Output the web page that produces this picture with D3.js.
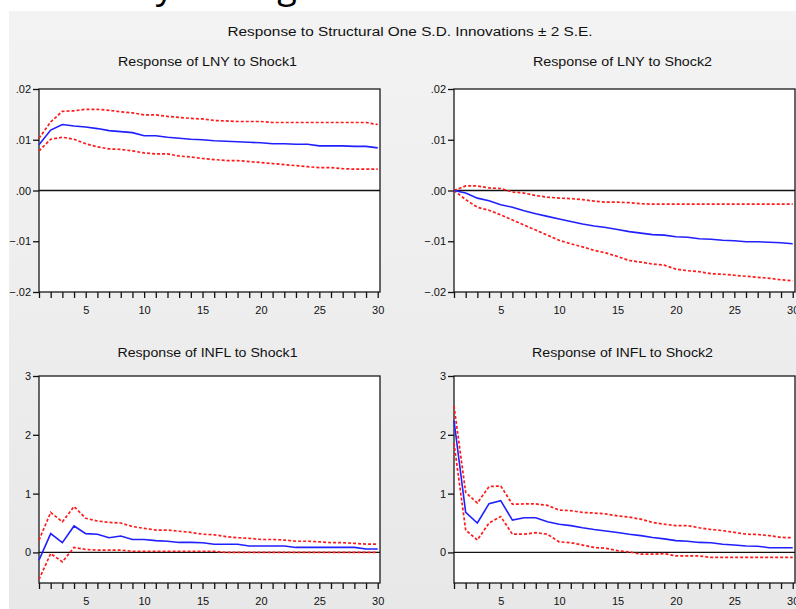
<!DOCTYPE html>
<html>
<head>
<meta charset="utf-8">
<script src="https://cdn.jsdelivr.net/npm/d3@7"></script>
<style>
  body { margin: 0; background: #fff; }
  svg { display: block; }
  text { font-family: "Liberation Sans", Arial, sans-serif; fill: #111; }
</style>
</head>
<body>
<div class="irf"></div>
<script>
// periods 1..30
const periods = d3.range(1, 31);

// Response of LNY to Shock1
const lnyShock1 = [0.0090, 0.0119, 0.0130, 0.0127, 0.0125, 0.0122, 0.0118, 0.0116, 0.0114, 0.0108,
  0.0108, 0.0105, 0.0103, 0.0101, 0.0100, 0.0098, 0.0097, 0.0096, 0.0095, 0.0094,
  0.0092, 0.0092, 0.0091, 0.0091, 0.0088, 0.0088, 0.0088, 0.0087, 0.0087, 0.0084];
const lnyShock1Up = [0.0103, 0.0135, 0.0156, 0.0157, 0.0160, 0.0160, 0.0158, 0.0155, 0.0153, 0.0149,
  0.0149, 0.0146, 0.0144, 0.0142, 0.0141, 0.0138, 0.0137, 0.0136, 0.0136, 0.0136,
  0.0134, 0.0134, 0.0134, 0.0134, 0.0134, 0.0134, 0.0134, 0.0134, 0.0134, 0.0130];
const lnyShock1Lo = [0.0078, 0.0101, 0.0105, 0.0101, 0.0092, 0.0086, 0.0082, 0.0081, 0.0078, 0.0074,
  0.0072, 0.0072, 0.0068, 0.0066, 0.0063, 0.0061, 0.0059, 0.0059, 0.0057, 0.0055,
  0.0053, 0.0051, 0.0049, 0.0047, 0.0045, 0.0045, 0.0043, 0.0042, 0.0042, 0.0042];

// Response of LNY to Shock2
const lnyShock2 = [0.0000, -0.0005, -0.0015, -0.0020, -0.0028, -0.0033, -0.0040, -0.0046, -0.0051, -0.0056,
  -0.0061, -0.0066, -0.0070, -0.0073, -0.0077, -0.0081, -0.0084, -0.0087, -0.0088, -0.0091,
  -0.0092, -0.0095, -0.0096, -0.0098, -0.0099, -0.0101, -0.0101, -0.0102, -0.0103, -0.0105];
const lnyShock2Up = [0.0000, 0.0009, 0.0009, 0.0005, 0.0004, -0.0003, -0.0005, -0.0010, -0.0013, -0.0015,
  -0.0016, -0.0018, -0.0021, -0.0023, -0.0023, -0.0024, -0.0026, -0.0027, -0.0027, -0.0027,
  -0.0027, -0.0027, -0.0027, -0.0027, -0.0027, -0.0027, -0.0027, -0.0027, -0.0027, -0.0027];
const lnyShock2Lo = [0.0000, -0.0018, -0.0033, -0.0039, -0.0048, -0.0058, -0.0068, -0.0078, -0.0088, -0.0098,
  -0.0105, -0.0111, -0.0118, -0.0123, -0.0130, -0.0138, -0.0141, -0.0145, -0.0147, -0.0155,
  -0.0158, -0.0160, -0.0164, -0.0165, -0.0167, -0.0169, -0.0171, -0.0173, -0.0176, -0.0178];

// Response of INFL to Shock1
const inflShock1 = [-0.13, 0.32, 0.165, 0.45, 0.32, 0.31, 0.25, 0.28, 0.22, 0.22,
  0.20, 0.19, 0.17, 0.17, 0.165, 0.14, 0.14, 0.14, 0.11, 0.11,
  0.11, 0.11, 0.085, 0.085, 0.085, 0.085, 0.085, 0.085, 0.057, 0.057];
const inflShock1Up = [0.21, 0.68, 0.52, 0.78, 0.58, 0.535, 0.51, 0.50, 0.44, 0.41,
  0.38, 0.38, 0.36, 0.34, 0.31, 0.30, 0.27, 0.25, 0.24, 0.22,
  0.22, 0.21, 0.19, 0.19, 0.18, 0.165, 0.165, 0.155, 0.14, 0.14];
const inflShock1Lo = [-0.46, -0.02, -0.16, 0.085, 0.05, 0.04, 0.04, 0.04, 0.02, 0.02,
  0.02, 0.02, 0.02, 0.02, 0.02, 0.02, 0.0, 0.0, 0.0, 0.0,
  0.0, 0.0, 0.0, 0.0, 0.0, 0.0, 0.0, 0.0, 0.0, 0.0];

// Response of INFL to Shock2
const inflShock2 = [2.24, 0.68, 0.50, 0.83, 0.88, 0.55, 0.59, 0.59, 0.52, 0.48,
  0.455, 0.42, 0.39, 0.365, 0.34, 0.31, 0.285, 0.255, 0.23, 0.20,
  0.19, 0.17, 0.165, 0.14, 0.125, 0.11, 0.105, 0.08, 0.08, 0.08];
const inflShock2Up = [2.49, 1.02, 0.84, 1.12, 1.13, 0.82, 0.825, 0.825, 0.80, 0.72,
  0.71, 0.68, 0.67, 0.655, 0.62, 0.60, 0.565, 0.51, 0.48, 0.455,
  0.455, 0.42, 0.39, 0.37, 0.34, 0.31, 0.305, 0.285, 0.255, 0.25];
const inflShock2Lo = [1.86, 0.38, 0.21, 0.50, 0.61, 0.31, 0.31, 0.335, 0.31, 0.18,
  0.165, 0.125, 0.085, 0.07, 0.03, 0.01, -0.03, -0.03, -0.02, -0.06,
  -0.06, -0.06, -0.085, -0.085, -0.085, -0.085, -0.085, -0.085, -0.085, -0.085];

const xTickLabels = [5, 10, 15, 20, 25, 30];
const lnyTicks = [-0.02, -0.01, 0, 0.01, 0.02];
const inflTicks = [0, 1, 2, 3];

const mainTitle = "Response to Structural One S.D. Innovations \u00b1 2 S.E.";

const panels = [
  { title: "Response of LNY to Shock1", resp: lnyShock1, up: lnyShock1Up, lo: lnyShock1Lo,
    yDomain: [-0.02, 0.02], yTicks: lnyTicks, fmt: (v) => d3.format(".2f")(v).replace("0.", "."),
    left: 39, right: 380, top: 89, bottom: 292, titleY: 62, titleW: 179 },
  { title: "Response of LNY to Shock2", resp: lnyShock2, up: lnyShock2Up, lo: lnyShock2Lo,
    yDomain: [-0.02, 0.02], yTicks: lnyTicks, fmt: (v) => d3.format(".2f")(v).replace("0.", "."),
    left: 454, right: 795, top: 89, bottom: 292, titleY: 62, titleW: 179 },
  { title: "Response of INFL to Shock1", resp: inflShock1, up: inflShock1Up, lo: inflShock1Lo,
    yDomain: [-0.52, 3], yTicks: inflTicks, fmt: d3.format("d"),
    left: 39, right: 380, top: 376, bottom: 583, titleY: 353, titleW: 180 },
  { title: "Response of INFL to Shock2", resp: inflShock2, up: inflShock2Up, lo: inflShock2Lo,
    yDomain: [-0.52, 3], yTicks: inflTicks, fmt: d3.format("d"),
    left: 454, right: 795, top: 376, bottom: 583, titleY: 353, titleW: 181 },
];

const width = 796, height = 609;

const svg = d3.select(".irf")
  .append("svg")
  .attr("width", width)
  .attr("height", height);

const defs = svg.append("defs");
const grad = defs.append("linearGradient")
  .attr("id", "bg")
  .attr("x1", 0).attr("y1", 0).attr("x2", 0).attr("y2", 1);
grad.append("stop").attr("offset", "0%").attr("stop-color", "#f3f3f3");
grad.append("stop").attr("offset", "100%").attr("stop-color", "#e8e8e8");

// text of the page above the graph, cut off by the crop (only descenders show)
svg.append("text")
  .attr("x", 41)
  .attr("y", -2)
  .style("font-family", "'Open Sans', sans-serif")
  .style("font-size", "36px")
  .style("fill", "#000")
  .text("Stability testing");

svg.append("rect")
  .attr("x", 9).attr("y", 11)
  .attr("width", width - 9).attr("height", height - 11)
  .style("fill", "url(#bg)");

svg.append("text")
  .attr("x", 410)
  .attr("y", 36)
  .attr("text-anchor", "middle")
  .attr("textLength", 365)
  .attr("lengthAdjust", "spacingAndGlyphs")
  .style("font-size", "12.5px")
  .text(mainTitle);

panels.forEach((p) => {
  const x = d3.scaleLinear().domain([1, 30]).range([p.left, p.left + 11.68 * 29]);
  const y = d3.scaleLinear().domain(p.yDomain).range([p.bottom, p.top]);
  const g = svg.append("g");

  g.append("text")
    .attr("x", (p.left + p.right) / 2 - 2)
    .attr("y", p.titleY + 4)
    .attr("text-anchor", "middle")
    .attr("textLength", p.titleW)
    .attr("lengthAdjust", "spacingAndGlyphs")
    .style("font-size", "12px")
    .text(p.title);

  g.append("rect")
    .attr("x", p.left).attr("y", p.top)
    .attr("width", p.right - p.left).attr("height", p.bottom - p.top)
    .style("fill", "#fff")
    .style("stroke", "#1a1a1a")
    .style("stroke-width", 1.3);

  // y axis
  const yAxis = g.append("g")
    .attr("transform", `translate(${p.left},0)`)
    .call(d3.axisLeft(y).tickValues(p.yTicks).tickFormat(p.fmt).tickSize(6).tickPadding(2));
  yAxis.select(".domain").remove();
  yAxis.selectAll("line").style("stroke", "#111").style("stroke-width", 1.3);
  yAxis.selectAll("text")
    .style("font-family", "'Liberation Sans', Arial, sans-serif")
    .style("font-size", "11px")
    .style("fill", "#111");

  // x axis: a tick at every period, labels every 5
  const xAxis = g.append("g")
    .attr("transform", `translate(0,${p.bottom})`)
    .call(d3.axisBottom(x).tickValues(periods)
      .tickFormat((d) => (xTickLabels.includes(d) ? d : ""))
      .tickSize(6).tickPadding(8));
  xAxis.select(".domain").remove();
  xAxis.selectAll("line").style("stroke", "#111").style("stroke-width", 1.3);
  xAxis.selectAll("text")
    .style("font-family", "'Liberation Sans', Arial, sans-serif")
    .style("font-size", "11px")
    .style("fill", "#111");

  // zero line
  g.append("line")
    .attr("x1", p.left).attr("x2", p.right)
    .attr("y1", y(0)).attr("y2", y(0))
    .style("stroke", "#111")
    .style("stroke-width", 1.4);

  const line = d3.line().x((d, i) => x(periods[i])).y((d) => y(d));

  [p.up, p.lo].forEach((band) => {
    g.append("path")
      .datum(band)
      .attr("d", line)
      .style("fill", "none")
      .style("stroke", "#ff1a1a")
      .style("stroke-width", 1.7)
      .style("stroke-dasharray", "3,2");
  });

  g.append("path")
    .datum(p.resp)
    .attr("d", line)
    .style("fill", "none")
    .style("stroke", "#2020ff")
    .style("stroke-width", 1.6);
});
</script>
</body>
</html>
